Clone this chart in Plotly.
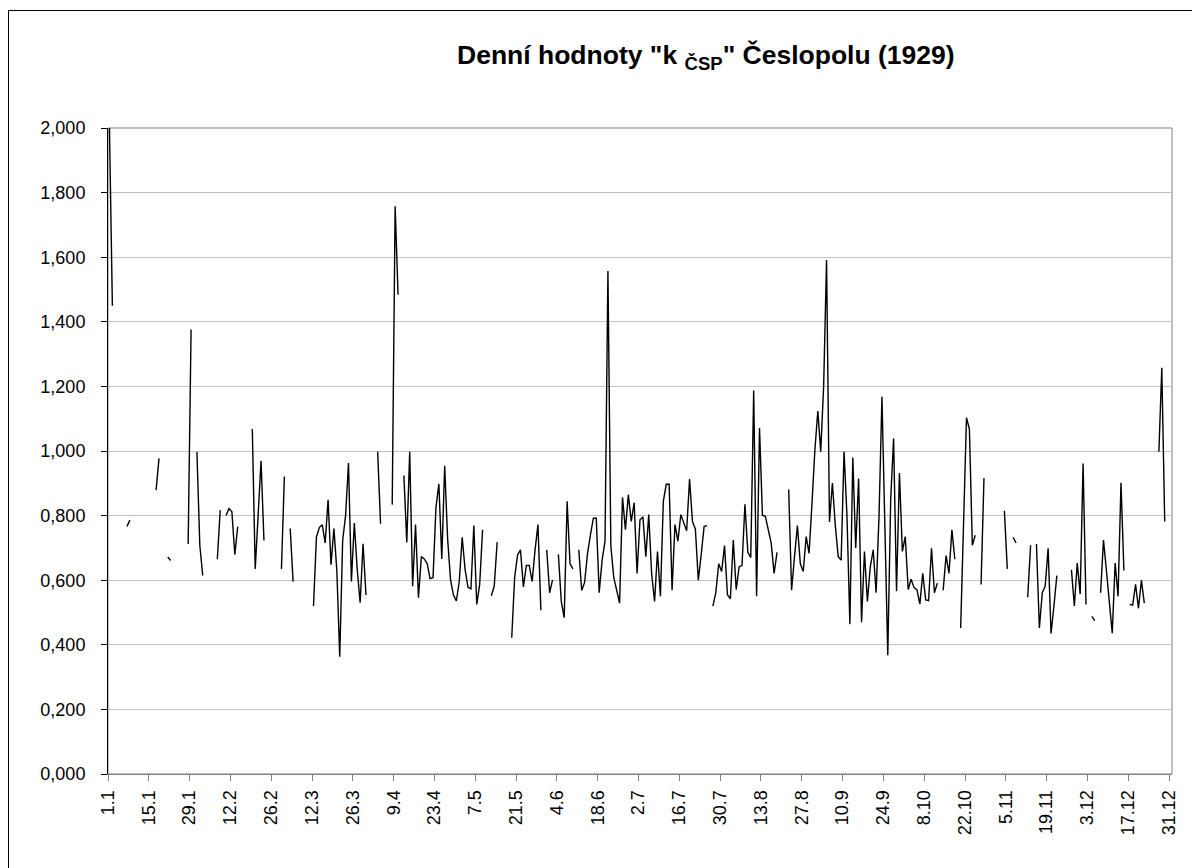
import plotly.graph_objects as go

N = None
jan = [2.0, 1.45, N, N, N, N, 0.766, 0.786, N, N, N, N, N, N, N, N, 0.879, 0.977, N, N,
       0.672, 0.661, N, N, N, N, N, 0.712, 1.376, N, 0.997]
feb = [0.708, 0.615, N, N, N, N, 0.665, 0.817, N, 0.80, 0.822, 0.812, 0.679, 0.766, N, N, N, N,
       1.068, 0.635, 0.80, 0.970, 0.723, N, N, N, N, N]
mar = [0.635, 0.921, N, 0.760, 0.595, N, N, N, N, N, N,
       0.520, 0.734, 0.763, 0.772, 0.715, 0.849, 0.648, 0.760, 0.630, 0.363, 0.723, 0.80, 0.963,
       0.596, 0.777, 0.633, 0.530, 0.713, 0.554, N]
apr = [N, N, 0.998, 0.775, N, N, N, 0.834, 1.758, 1.484, N,
       0.924, 0.717, 0.998, 0.581, 0.772, 0.546, 0.673, 0.666, 0.651, 0.605, 0.608, 0.825, 0.898,
       0.666, 0.954, 0.729, 0.602, 0.554, 0.536]
may = [0.596, 0.733, 0.633, 0.578, 0.573, 0.769, 0.525, 0.587, 0.756, N, N, 0.552, 0.582, 0.718,
       N, N, N, N, 0.422, 0.609, 0.678, 0.694, 0.579, 0.646, 0.646, 0.596, 0.694, 0.772, 0.507, N, 0.694]
jun = [0.561, 0.601, N, 0.680, 0.534, 0.484, 0.844, 0.651, 0.635, N,
       0.694, 0.568, 0.593, 0.683, 0.74, 0.792, 0.792, 0.561, 0.662, 0.721, 1.557, 0.705, 0.609,
       0.571, 0.529, 0.857, 0.756, 0.865, 0.782, 0.840]
jul = [0.621, 0.787, 0.796, 0.673, 0.803, 0.619, 0.534, 0.689, 0.550, 0.844, 0.897, 0.897, 0.569,
       0.772, 0.721, 0.803, 0.780, 0.753, 0.913, 0.782, 0.758, 0.600, 0.68, 0.767, 0.769, N,
       0.520, 0.561, 0.651, 0.627, 0.707]
aug = [0.555, 0.542, 0.724, 0.571, 0.641, 0.646, 0.835, 0.686, 0.670, 1.187, 0.550, 1.071, 0.801,
       0.798, 0.751, 0.715, 0.621, 0.686, N, N, N,
       0.881, 0.569, 0.673, 0.769, 0.651, 0.627, 0.735, 0.683, 0.838, 1.004]
sep = [1.124, 0.998, 1.201, 1.591, 0.780, 0.901, 0.769, 0.673, 0.662, 0.998, 0.80, 0.464, 0.980,
       0.70, 0.915, 0.470, 0.689, 0.534, 0.641, 0.694, 0.561, 0.80, 1.168, 0.75, 0.368, 0.85,
       1.039, 0.566, 0.932, 0.689]
oct_ = [0.735, 0.571, 0.603, 0.577, 0.571, 0.526, 0.621, 0.539, 0.537, 0.699, 0.561, 0.591, N,
        0.569, 0.676, 0.621, 0.756, 0.665, N, 0.452, 0.78, 1.103, 1.068, 0.708, 0.739, N,
        0.587, 0.916, N, N, N]
nov = [N, N, N, 0.815, 0.635, N, 0.733, 0.715, N, N, N, 0.547, 0.708, N,
       0.712, 0.452, 0.561, 0.582, 0.699, 0.435, 0.52, 0.614, N, N, N, N, 0.632, 0.520, 0.653, 0.557]
dec = [0.961, 0.525, N, 0.488, 0.475, N, 0.561, 0.724, 0.63, 0.53, 0.436, 0.653, 0.550, 0.902,
       0.630, N, 0.525, 0.523, 0.587, 0.513, 0.600, 0.529, N, N, N, N, 0.998, 1.258, 0.782, N, N]

tick_labels = ["1.1", "15.1", "29.1", "12.2", "26.2", "12.3", "26.3", "9.4", "23.4", "7.5",
               "21.5", "4.6", "18.6", "2.7", "16.7", "30.7", "13.8", "27.8", "10.9", "24.9",
               "8.10", "22.10", "5.11", "19.11", "3.12", "17.12", "31.12"]

values = jan + feb + mar + apr + may + jun + jul + aug + sep + oct_ + nov + dec
days = list(range(1, len(values) + 1))
tick_vals = [0.5 + 14 * i for i in range(len(tick_labels))]

FONT = "Liberation Sans, Arial, sans-serif"

fig = go.Figure()
fig.add_trace(go.Scatter(x=days, y=values, mode="lines", connectgaps=False,
                         line=dict(color="black", width=1.4), showlegend=False,
                         hoverinfo="skip"))

# the page body adds an 8 px offset; figure coordinates = screen - 8
OFF = 8
W, H = 1192, 860
L, T = 108 - OFF, 128 - OFF
R = W - (1172 - OFF)
B = H - (774 - OFF)
pw, ph = W - L - R, H - T - B

def px(x):
    return (x - OFF - L) / pw

def py(y):
    return (H - B - (y - OFF)) / ph

fig.update_layout(
    width=W, height=H,
    margin=dict(l=L, r=R, t=T, b=B),
    paper_bgcolor="white", plot_bgcolor="white",
    separators=",.",
    font=dict(family=FONT, size=18, color="black"),
    xaxis=dict(range=[0.5, 365.5], tickmode="array", tickvals=tick_vals, ticktext=tick_labels,
               tickangle=-90, ticks="outside", ticklen=6, tickcolor="#808080",
               showgrid=False, zeroline=False, showline=True, linecolor="#808080", linewidth=1,
               tickfont=dict(family=FONT, size=18, color="black"), ticklabelstandoff=2),
    yaxis=dict(range=[0, 2], dtick=0.2, tick0=0, tickformat=".3f", ticks="outside", ticklen=6,
               tickcolor="black", showgrid=True, gridcolor="#c0c0c0", gridwidth=1,
               zeroline=False, showline=True, linecolor="black", linewidth=1,
               tickfont=dict(family=FONT, size=18, color="black"), ticklabelstandoff=12),
    shapes=[
        dict(type="rect", xref="paper", yref="paper", x0=0, x1=1, y0=0, y1=1,
             line=dict(color="#808080", width=1), layer="below"),
        dict(type="rect", xref="paper", yref="paper", x0=px(8.5), x1=px(1197), y0=py(880), y1=py(10.5),
             line=dict(color="black", width=1)),
    ],
    annotations=[
        dict(text='<b>Denní hodnoty "k <sub>ČSP</sub>" Česlopolu (1929)</b>', xref="paper", yref="paper",
             x=px(706), y=py(57), xanchor="center", yanchor="middle", showarrow=False,
             font=dict(family=FONT, size=26.5, color="black")),
    ],
)

fig.write_html("out.html")
